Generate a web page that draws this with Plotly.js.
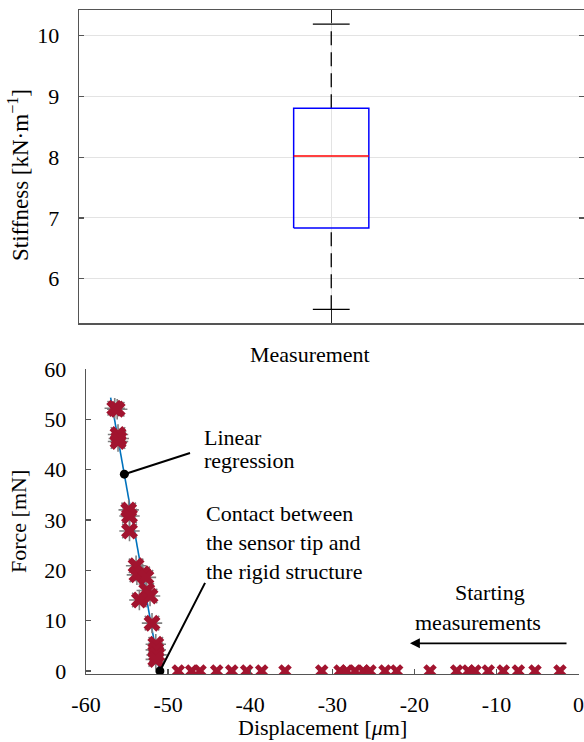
<!DOCTYPE html>
<html>
<head>
<meta charset="utf-8">
<script src="https://cdn.plot.ly/plotly-3.0.1.min.js"></script>
<style>html,body{margin:0;padding:0;background:#fff;}#chart{width:584px;height:742px;}</style>
</head>
<body>
<div id="chart"></div>
<script>
// ---- Box plot statistics (stiffness, kN/m) ----
const boxCategory = ['Measurement'];
const boxPos = [1];
const boxLower = [5.496];
const boxQ1 = [6.834];
const boxMedian = [8.02];
const boxQ3 = [8.805];
const boxUpper = [10.19];
const stiffTicks = [6, 7, 8, 9, 10];

// ---- Force / displacement data ----
// loading phase (contact with rigid structure)
const loadX = [-56.5, -56.2, -56.1, -56.0, -56.1, -54.8, -54.7, -54.7, -53.9, -53.8, -53.1, -52.7, -52.6, -52.2, -53.5, -51.96, -51.5, -51.5, -51.4, -51.5];
const loadY = [52.2, 52.0, 47.0, 46.2, 45.6, 32.0, 30.8, 27.8, 20.9, 19.1, 19.3, 18.6, 16.0, 14.9, 14.1, 9.5, 5.3, 4.2, 3.2, 2.3];
// approach phase (no contact)
const freeX = [-48.76, -47.13, -46.11, -44.08, -42.25, -40.43, -38.60, -35.76, -31.29, -29.06, -28.25, -27.23, -26.22, -25.41, -23.58, -22.16, -18.10, -14.85, -13.43, -12.62, -11.00, -9.17, -7.34, -5.31, -2.27];
const freeY = [0, 0, 0, 0, 0, 0, 0, 0, 0, 0, 0, 0, 0, 0, 0, 0, 0, 0, 0, 0, 0, 0, 0, 0, 0];
// linear regression line
const fitX = [-57.0, -51.05];
const fitY = [54.3, 0];
// highlighted points: on regression, contact point
const keyX = [-55.33, -51.0];
const keyY = [39.1, 0];
// axis ticks
const dispTicks = [-60, -50, -40, -30, -20, -10, 0];
const dispTickText = ['-60', '-50', '-40', '-30', '-20', '-10', '0'];
const forceTicks = [0, 10, 20, 30, 40, 50, 60];

const W = 584, H = 742;
const px = v => v / W;
const py = v => 1 - v / H;
const FONT = '"Liberation Serif", "Times New Roman", Times, serif';
const FS = 22;
const AX = '#555555';

const bw = 0.149, cw = 0.073;
const traces = [];
boxPos.forEach((p, i) => {
  traces.push({x: [p, p], y: [boxLower[i], boxQ1[i]], mode: 'lines', line: {color: '#000', width: 1.3, dash: '14px,7px'}, xaxis: 'x', yaxis: 'y'});
  traces.push({x: [p, p], y: [boxQ3[i], boxUpper[i]], mode: 'lines', line: {color: '#000', width: 1.3, dash: '14px,7px'}, xaxis: 'x', yaxis: 'y'});
  traces.push({x: [p - cw, p + cw], y: [boxLower[i], boxLower[i]], mode: 'lines', line: {color: '#000', width: 1.3}, xaxis: 'x', yaxis: 'y'});
  traces.push({x: [p - cw, p + cw], y: [boxUpper[i], boxUpper[i]], mode: 'lines', line: {color: '#000', width: 1.3}, xaxis: 'x', yaxis: 'y'});
  traces.push({x: [p - bw, p + bw, p + bw, p - bw, p - bw], y: [boxQ1[i], boxQ1[i], boxQ3[i], boxQ3[i], boxQ1[i]], mode: 'lines', line: {color: '#0000ff', width: 1.5}, xaxis: 'x', yaxis: 'y'});
  traces.push({x: [p - bw, p + bw], y: [boxMedian[i], boxMedian[i]], mode: 'lines', line: {color: '#ff0000', width: 1.5}, xaxis: 'x', yaxis: 'y'});
});

traces.push({x: fitX, y: fitY, mode: 'lines', line: {color: '#0072BD', width: 1.6}, xaxis: 'x2', yaxis: 'y2'});
traces.push({x: loadX, y: loadY, mode: 'markers', marker: {symbol: 'asterisk-open', size: 17, line: {color: '#1f77d0', width: 1.6}}, xaxis: 'x2', yaxis: 'y2'});
traces.push({x: loadX, y: loadY, mode: 'markers', marker: {symbol: 'x', size: 15, color: '#A2142F', line: {width: 0}}, xaxis: 'x2', yaxis: 'y2'});
traces.push({x: freeX, y: freeY, mode: 'markers', marker: {symbol: 'x', size: 12, color: '#A2142F', line: {width: 0}}, xaxis: 'x2', yaxis: 'y2'});
traces.push({x: keyX, y: keyY, mode: 'markers', marker: {symbol: 'circle', size: 9, color: '#000'}, xaxis: 'x2', yaxis: 'y2'});

const tickFont = {family: FONT, size: FS, color: '#000'};
const txt = (text, x, y, xanchor) => ({text, x: px(x), y: py(y), xref: 'paper', yref: 'paper', xanchor: xanchor || 'center', yanchor: 'middle', showarrow: false, font: {family: FONT, size: FS, color: '#000'}});

const annotations = [
  txt('Measurement', 310, 354),
  Object.assign(txt('Stiffness [kN·m<sup>−1</sup>]', 18, 175), {textangle: -90, font: {family: FONT, size: 23, color: '#000'}}),
  Object.assign(txt('Force [mN]', 18, 522), {textangle: -90}),
  txt('Displacement [<i>μ</i>m]', 322, 727),
  txt('Linear', 202, 437, 'left'),
  txt('regression', 202, 460, 'left'),
  txt('Contact between', 204, 513, 'left'),
  txt('the sensor tip and', 204, 542, 'left'),
  txt('the rigid structure', 204, 571, 'left'),
  txt('Starting', 490, 592),
  txt('measurements', 478, 622),
  {x: -47.33, y: 43.3, ax: keyX[0], ay: keyY[0], xref: 'x2', yref: 'y2', axref: 'x2', ayref: 'y2', text: '', showarrow: true, arrowhead: 0, arrowwidth: 2, arrowcolor: '#000'},
  {x: -45.5, y: 17.5, ax: keyX[1], ay: keyY[1], xref: 'x2', yref: 'y2', axref: 'x2', ayref: 'y2', text: '', showarrow: true, arrowhead: 0, arrowwidth: 2, arrowcolor: '#000'},
  {x: -20.54, y: 5.5, ax: -1.29, ay: 5.5, xref: 'x2', yref: 'y2', axref: 'x2', ayref: 'y2', text: '', showarrow: true, arrowhead: 2, arrowsize: 1.1, arrowwidth: 1.8, arrowcolor: '#000'}
];

const layout = {
  width: W, height: H,
  margin: {l: 0, r: 0, t: 0, b: 0},
  paper_bgcolor: '#fff', plot_bgcolor: '#fff',
  showlegend: false,
  font: {family: FONT, size: FS, color: '#000'},
  xaxis: {domain: [px(79), px(583.5)], range: [0, 2], tickvals: boxPos, showticklabels: false, ticks: 'inside', ticklen: 13, tickcolor: '#222', tickwidth: 1.3,
          showline: true, linecolor: AX, linewidth: 1.3, mirror: 'ticks', showgrid: true, gridcolor: '#e3e3e3', gridwidth: 1, zeroline: false, anchor: 'y'},
  yaxis: {domain: [py(323.3), py(10)], range: [5.266, 10.423], tickvals: stiffTicks, ticks: 'inside', ticklen: 5, tickcolor: AX, tickwidth: 1.3,
          showline: true, linecolor: AX, linewidth: 1.3, mirror: 'ticks', showgrid: true, gridcolor: '#e3e3e3', gridwidth: 1, zeroline: false,
          tickfont: tickFont, ticklabelstandoff: 14, anchor: 'x'},
  xaxis2: {domain: [px(86), px(578.6)], range: [-60, 0], tickvals: dispTicks, ticktext: dispTickText, ticks: 'inside', ticklen: 5, tickcolor: AX, tickwidth: 1.3,
           showline: true, linecolor: AX, linewidth: 1.3, showgrid: false, zeroline: false, tickfont: tickFont, ticklabelstandoff: 10, ticklabeloverflow: 'allow', anchor: 'y2'},
  yaxis2: {domain: [py(674), py(369)], range: [-0.6, 60], tickvals: forceTicks, ticks: 'inside', ticklen: 5, tickcolor: AX, tickwidth: 1.3,
           showline: true, linecolor: AX, linewidth: 1.3, showgrid: false, zeroline: false, tickfont: tickFont, ticklabelstandoff: 14, anchor: 'x2'},
  annotations
};

Plotly.newPlot('chart', traces, layout, {staticPlot: true, displayModeBar: false});
</script>
</body>
</html>
